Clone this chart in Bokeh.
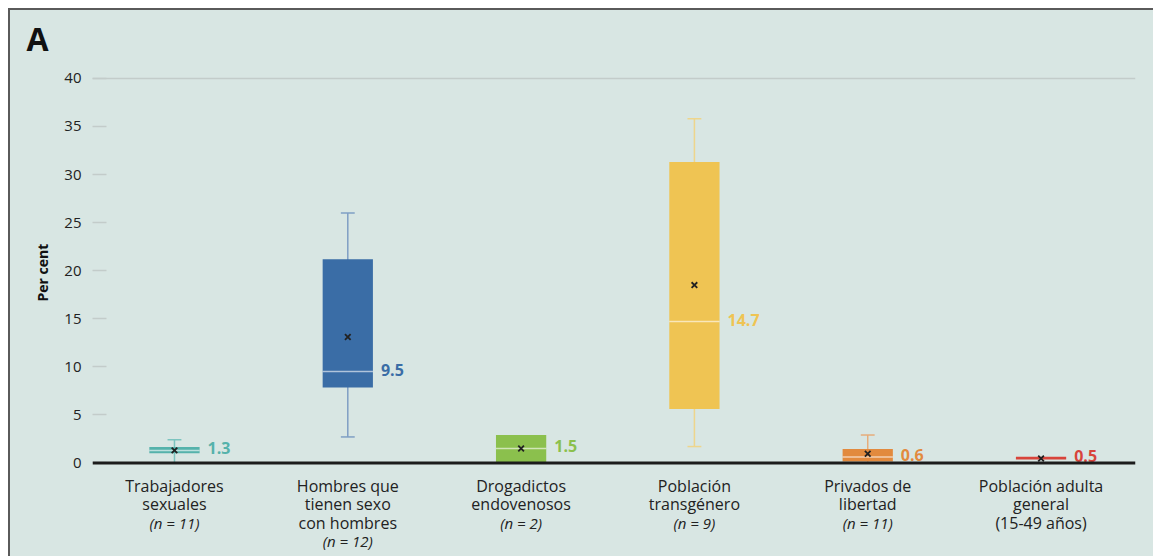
import math
from bokeh.plotting import figure
from bokeh.models import ColumnDataSource, FixedTicker, Span, Range1d, Title
from bokeh.core.properties import value
from bokeh.embed import file_html
from bokeh.resources import INLINE

# ---- data ----
cat_lines = [
    ["Trabajadores", "sexuales"],
    ["Hombres que", "tienen sexo", "con hombres"],
    ["Drogadictos", "endovenosos"],
    ["Población", "transgénero"],
    ["Privados de", "libertad"],
    ["Población adulta", "general", "(15-49 años)"],
]
n_labels = ["(n = 11)", "(n = 12)", "(n = 2)", "(n = 9)", "(n = 11)", ""]
q1 = [1.0, 7.85, 0.0, 5.6, 0.15, 0.35]
q3 = [1.65, 21.2, 2.9, 31.3, 1.45, 0.65]
median = [1.3, 9.5, 1.5, 14.7, 0.6, 0.5]
mean = [1.3, 13.1, 1.5, 18.5, 0.95, 0.45]
low = [0.0, 2.7, 0.0, 1.7, 0.0, 0.5]
high = [2.4, 26.0, 2.9, 35.8, 2.9, 0.5]
colors = ["#55b2ab", "#3a6da6", "#8bc04d", "#efc453", "#e28a3e", "#d8443b"]
wcolors = ["#7cc4bf", "#7f9fc4", "#a9cf7d", "#eed58c", "#e6ad7b", "#d8443b"]
ticks = [0, 5, 10, 15, 20, 25, 30, 35, 40]

BG = "#d8e6e3"
xs = list(range(1, len(q1) + 1))
BW = 0.29
CAP = 0.04

p = figure(width=1145, height=548, x_range=Range1d(0.527, 6.545),
           y_range=Range1d(-9.948, 41.658), output_backend="svg",
           toolbar_location=None, min_border_left=82, min_border_right=20,
           min_border_top=52, min_border_bottom=0,
           background_fill_alpha=0, border_fill_alpha=0,
           outline_line_color=None, title="A")
p.styles = {"margin-left": "8px", "margin-top": "8px", "background-color": BG,
            "border-left": "2px solid #5a5a5a", "border-top": "2px solid #5a5a5a"}

p.title.text_font = "Open Sans"
p.title.text_font_style = "bold"
p.title.text_font_size = "32px"
p.title.text_color = "#111111"
p.title.align = "left"
p.title.offset = -66
p.title.standoff = 6

p.xaxis.visible = False
p.xgrid.visible = False
p.ygrid.visible = False
ya = p.yaxis[0]
ya.ticker = FixedTicker(ticks=ticks)
ya.axis_line_color = None
ya.major_tick_in = 14
ya.major_tick_out = 0
ya.major_tick_line_color = "#c3ccca"
ya.major_tick_line_width = 1.5
ya.minor_tick_line_color = None
ya.major_label_text_font = "Open Sans"
ya.major_label_text_font_size = "15px"
ya.major_label_text_color = "#222222"
ya.major_label_standoff = 11

p.add_layout(Title(text="Per cent", align="left", offset=257, standoff=19,
                   text_font="Open Sans", text_font_style="bold", text_font_size="14px",
                   text_color="#111111"), "left")

p.add_layout(Span(location=ticks[-1], dimension="width", line_color="#c3ccca", line_width=1.5))

# whiskers
wsrc = ColumnDataSource(dict(x=xs, low=low, high=high, q1=q1, q3=q3, c=wcolors))
p.segment(x0="x", y0="high", x1="x", y1="low", line_color="c", line_width=1.5, source=wsrc)
cx, cy, cc = [], [], []
for i in range(len(xs)):
    if high[i] > q3[i]:
        cx.append(xs[i]); cy.append(high[i]); cc.append(wcolors[i])
    if low[i] < q1[i] and low[i] > 0:
        cx.append(xs[i]); cy.append(low[i]); cc.append(wcolors[i])
csrc = ColumnDataSource(dict(x0=[v - CAP for v in cx], x1=[v + CAP for v in cx], y=cy, c=cc))
p.segment(x0="x0", y0="y", x1="x1", y1="y", line_color="c", line_width=1.5, source=csrc)

# boxes
bsrc = ColumnDataSource(dict(x=xs, q1=q1, q3=q3, c=colors))
p.vbar(x="x", width=BW, top="q3", bottom="q1", fill_color="c", line_color=None, source=bsrc)

# median lines
mi = [i for i in range(len(xs)) if q3[i] - q1[i] > 0.5]
msrc = ColumnDataSource(dict(x0=[xs[i] - BW / 2 for i in mi], x1=[xs[i] + BW / 2 for i in mi],
                             y=[median[i] for i in mi]))
p.segment(x0="x0", y0="y", x1="x1", y1="y", line_color="white", line_alpha=0.6,
          line_width=1.5, source=msrc)

# mean markers
p.scatter(x=xs, y=mean, marker="x", size=8, line_color="#222222", line_width=1.8)

# zero axis line
p.add_layout(Span(location=0, dimension="width", line_color="#1c1c1c", line_width=3))

# median value labels
tsrc = ColumnDataSource(dict(x=[v + BW / 2 for v in xs], y=median,
                             t=[f"{m:.1f}" for m in median], c=colors))
p.text(x="x", y="y", text="t", text_color="c", x_offset=8, y_offset=-2, text_baseline="middle",
       text_align="left", text_font=value("Open Sans"), text_font_style="bold",
       text_font_size="16px", source=tsrc)

# category labels
LINE0 = -2.38
LSP = 1.92
lx, ly, lt = [], [], []
nx, ny, nt = [], [], []
for i, lines in enumerate(cat_lines):
    for j, s in enumerate(lines):
        lx.append(xs[i]); ly.append(LINE0 - j * LSP); lt.append(s)
    if n_labels[i]:
        nx.append(xs[i]); ny.append(LINE0 - len(lines) * LSP); nt.append(n_labels[i])
p.text(x=lx, y=ly, text=lt, text_align="center", text_baseline="middle",
       text_font=value("Open Sans"), text_font_size="16px", text_color="#222222")
p.text(x=nx, y=ny, text=nt, text_align="center", text_baseline="middle",
       text_font=value("Open Sans"), text_font_style="italic", text_font_size="15px",
       text_color="#222222")

open("out.html", "w").write(file_html(p, INLINE))
